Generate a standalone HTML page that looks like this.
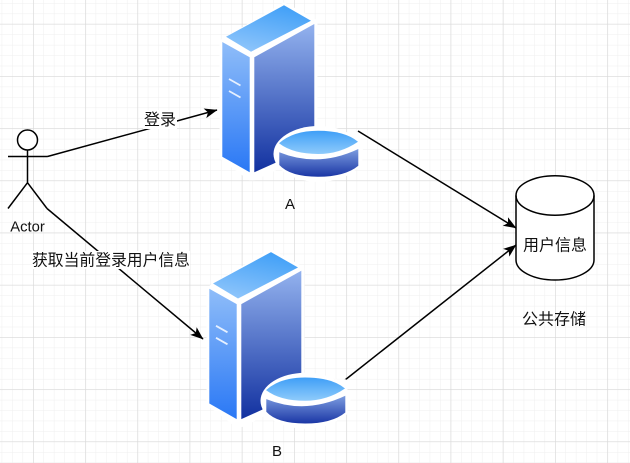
<!DOCTYPE html>
<html><head><meta charset="utf-8"><style>
html,body{margin:0;padding:0;background:#fff;width:630px;height:463px;overflow:hidden}
svg{display:block;filter:blur(0.35px)}
text{font-family:"Liberation Sans","Noto Sans CJK SC",sans-serif;fill:#111;text-anchor:middle}
</style></head><body>
<svg width="630" height="463" viewBox="0 0 630 463" xmlns="http://www.w3.org/2000/svg">
<defs>
<pattern id="minor" x="33" y="24" width="10.44" height="10.44" patternUnits="userSpaceOnUse"><path d="M0 0V10.44M0 0H10.44" stroke="#efefef" stroke-width="1" fill="none"/></pattern>
<pattern id="major" x="33" y="23.8" width="52.2" height="52.2" patternUnits="userSpaceOnUse"><path d="M0 0V52.2M0 0H52.2" stroke="#d9d9d9" stroke-width="1.3" fill="none"/></pattern>
<linearGradient id="gTop" x1="0.75" y1="0" x2="0.35" y2="1"><stop offset="0" stop-color="#3f9ff7"/><stop offset="1" stop-color="#8cc4fb"/></linearGradient>
<linearGradient id="gLeft" x1="0" y1="0" x2="0" y2="1"><stop offset="0" stop-color="#8fbdf9"/><stop offset="1" stop-color="#2a78f5"/></linearGradient>
<linearGradient id="gRight" x1="0" y1="0" x2="0" y2="1"><stop offset="0" stop-color="#93b2ee"/><stop offset="1" stop-color="#1231a0"/></linearGradient>
<linearGradient id="gDiskTop" x1="0" y1="0" x2="0" y2="1"><stop offset="0" stop-color="#3f9ff7"/><stop offset="1" stop-color="#8fcbfb"/></linearGradient>
<linearGradient id="gDiskSide" x1="0" y1="0" x2="0" y2="1"><stop offset="0" stop-color="#7d9de0"/><stop offset="1" stop-color="#1a36a5"/></linearGradient>
<g id="server">
<path d="M222 42 L284 5 L315 22 L315 135 L358 135 L358 166 Q318 186 279 166 L254 178 L250 178 L222 157Z" fill="#fff" stroke="#fff" stroke-width="5" stroke-linejoin="round"/>
<path d="M284 5.3 L311 20.7 L251 51.7 L226 36.7Z" fill="url(#gTop)"/>
<path d="M222.3 42 L249.7 57.3 L249.7 172.3 L222.3 156.7Z" fill="url(#gLeft)"/>
<path d="M254.3 57.3 L314.3 24 L314.3 135 L275 163 L254.3 172.3Z" fill="url(#gRight)"/>
<path d="M229 79 L240.5 85.5M229 91 L240.5 97.5" stroke="#e6f0ff" stroke-width="1.8" fill="none"/>
<ellipse cx="318.5" cy="154" rx="45" ry="28" fill="#fff"/>
<path d="M279.3 152.3 Q318 168 358.3 149 L358.3 165.7 Q345 176.7 318 176.7 Q290 176.7 279.3 165Z" fill="url(#gDiskSide)"/>
<path d="M279 143.3 Q293 130.7 318 130.7 Q345 130.7 358 141.7 Q340 154 318 154 Q293 154 279 143.3Z" fill="url(#gDiskTop)"/>
</g>
<marker id="arr" markerWidth="14" markerHeight="12" refX="12.5" refY="5" orient="auto" markerUnits="userSpaceOnUse"><path d="M0 0 L13 5 L0 10 L3.2 5Z" fill="#000"/></marker>
</defs>
<rect width="630" height="463" fill="#fff"/>
<rect width="630" height="463" fill="url(#minor)"/>
<rect width="630" height="463" fill="url(#major)"/>

<g stroke="#000" stroke-width="1.5" fill="none">
<path d="M47.5 156.5 L217 110" marker-end="url(#arr)"/>
<path d="M47 208.5 L203 339" marker-end="url(#arr)"/>
<path d="M358 131 L516 228" marker-end="url(#arr)"/>
<path d="M345 380 L516 245" marker-end="url(#arr)"/>
</g>

<use href="#server"/>
<use href="#server" x="-13" y="246.8"/>

<g stroke="#000" stroke-width="1.5" fill="none">
<circle cx="27.5" cy="140" r="10" fill="#fff"/>
<path d="M27.5 150V182.7M8 156.5H47.5M27.5 182.7L8 208.5M27.5 182.7L47 208.5"/>
</g>
<text x="27.5" y="231.5" font-size="14.8">Actor</text>

<rect x="143" y="110" width="34" height="19" fill="#fff"/>
<text x="160" y="125" font-size="16">登录</text>
<rect x="32" y="251" width="158" height="18" fill="#fff"/>
<text x="111" y="265.5" font-size="15.8">获取当前登录用户信息</text>

<path d="M516 195.5 C516 184.6 533.5 175.7 555 175.7 C576.5 175.7 594 184.6 594 195.5 L594 260 C594 271 576.5 280 555 280 C533.5 280 516 271 516 260Z" fill="#fff" stroke="#000" stroke-width="1.5"/>
<path d="M516 195.5 C516 206.4 533.5 215.2 555 215.2 C576.5 215.2 594 206.4 594 195.5" fill="none" stroke="#000" stroke-width="1.5"/>
<text x="555" y="250.5" font-size="16">用户信息</text>
<text x="554" y="324.5" font-size="16">公共存储</text>
<text x="290" y="209" font-size="15">A</text>
<text x="277" y="456" font-size="15">B</text>
</svg>
</body></html>
